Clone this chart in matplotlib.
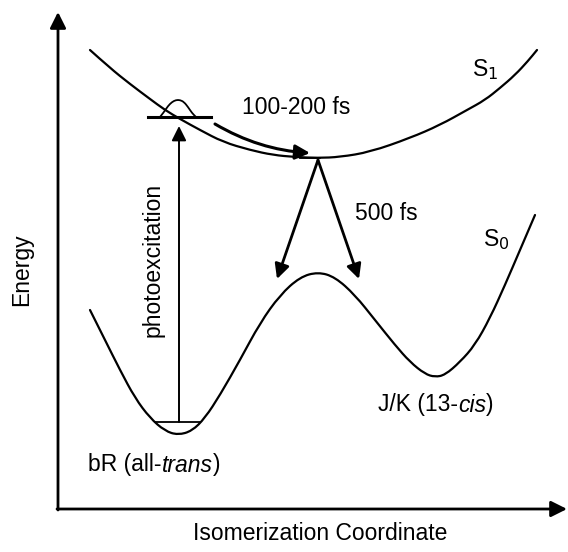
import matplotlib.pyplot as plt
from matplotlib.patches import FancyArrowPatch, PathPatch
from matplotlib.path import Path

plt.rcParams['font.family'] = ['Liberation Sans', 'DejaVu Sans']

# curve points (pixel coordinates, y down)
s1_x = [90, 110, 130, 150, 165, 180, 200, 223, 250, 273, 295, 318, 340, 370, 410, 440, 467, 485, 500, 515, 528, 537]
s1_y = [50, 68, 84, 99, 110, 119, 130, 142, 150, 155, 157, 158, 157, 152, 138, 125, 110, 100, 88, 75, 61, 50]

s0_x = [90, 105, 120, 135, 150, 165, 178, 192, 205, 220, 240, 260, 280, 300, 318, 335, 355, 375, 395, 410,
        425, 435, 445, 460, 475, 490, 505, 520, 535]
s0_y = [310, 340, 370, 398, 418, 431, 435, 431, 418, 395, 360, 323, 295, 277, 272, 277, 295, 320, 345, 362,
        374, 377, 375, 362, 345, 318, 285, 250, 215]

packet_x = [160, 164, 168, 172, 176, 180, 184, 188, 192, 196]
packet_y = [117, 112, 106, 102, 100, 100, 102, 107, 113, 117]

fig = plt.figure(figsize=(5.68, 5.52), dpi=100)
ax = fig.add_axes([0, 0, 1, 1])
ax.set_xlim(0, 568)
ax.set_ylim(552, 0)
ax.axis('off')


def smooth_curve(xs, ys, lw):
    # quadratic pieces through the midpoints, read points act as control points
    pts = list(zip(xs, ys))
    verts = [pts[0]]
    codes = [Path.MOVETO]
    for i in range(1, len(pts) - 1):
        mid = ((pts[i][0] + pts[i + 1][0]) / 2, (pts[i][1] + pts[i + 1][1]) / 2)
        verts += [pts[i], mid]
        codes += [Path.CURVE3, Path.CURVE3]
    verts.append(pts[-1])
    codes.append(Path.LINETO)
    ax.add_patch(PathPatch(Path(verts, codes), fill=False, lw=lw, edgecolor='black', capstyle='round'))


lw = 1.6
smooth_curve(s1_x, s1_y, lw)
smooth_curve(s0_x, s0_y, lw)
smooth_curve(packet_x, packet_y, 1.3)
ax.plot([148, 211], [117, 117], color='black', lw=2.2)
ax.plot([155, 200], [422, 422], color='black', lw=1.3)
ax.plot([300, 320], [158, 158], color='black', lw=1.3)


def arrow(p0, p1, rad=0.0, lw=1.6, ms=22):
    a = FancyArrowPatch(p0, p1, arrowstyle='-|>', mutation_scale=ms, color='black',
                        lw=lw, shrinkA=0, shrinkB=0,
                        connectionstyle=f'arc3,rad={rad}')
    ax.add_patch(a)


# axes
arrow((58, 510), (58, 12), lw=2.0, ms=24)
arrow((57, 509), (567, 509), lw=2.0, ms=24)

# photoexcitation
arrow((179, 422), (179, 126), lw=1.4)
# relaxation on S1
arrow((215, 124), (310, 153), rad=0.12, lw=2.2)
# branching to S0
arrow((318, 160), (277, 279), lw=2.0)
arrow((318, 160), (359, 279), lw=2.0)

fs = 16.5
ax.text(242, 108, '100-200 fs', fontsize=fs, va='center', ha='left')
ax.text(355, 213, '500 fs', fontsize=fs, va='center', ha='left')
ax.text(472, 70, r'S$_1$', fontsize=fs, va='center', ha='left')
ax.text(483, 240, r'S$_0$', fontsize=fs, va='center', ha='left')
ax.text(153, 260, 'photoexcitation', fontsize=fs, va='center', ha='center', rotation=90)
ax.text(22, 270, 'Energy', fontsize=fs, va='center', ha='center', rotation=90)
ax.text(320, 533, 'Isomerization Coordinate', fontsize=fs, va='center', ha='center')
br = ax.text(88, 465, 'bR (all-', fontsize=fs, va='center', ha='left')
jk = ax.text(378, 405, 'J/K (13-', fontsize=fs, va='center', ha='left')

fig.canvas.draw()
r = fig.canvas.get_renderer()
inv = ax.transData.inverted()


def tail(base, italic, rest):
    bb = base.get_window_extent(r)
    x = inv.transform((bb.x1, 0))[0]
    y = base.get_position()[1]
    t2 = ax.text(x, y, italic, fontsize=fs, va='center', ha='left', style='italic')
    bb2 = t2.get_window_extent(r)
    x2 = inv.transform((bb2.x1, 0))[0]
    ax.text(x2, y, rest, fontsize=fs, va='center', ha='left')


tail(br, 'trans', ')')
tail(jk, 'cis', ')')

fig.savefig('out.png', dpi=100)
